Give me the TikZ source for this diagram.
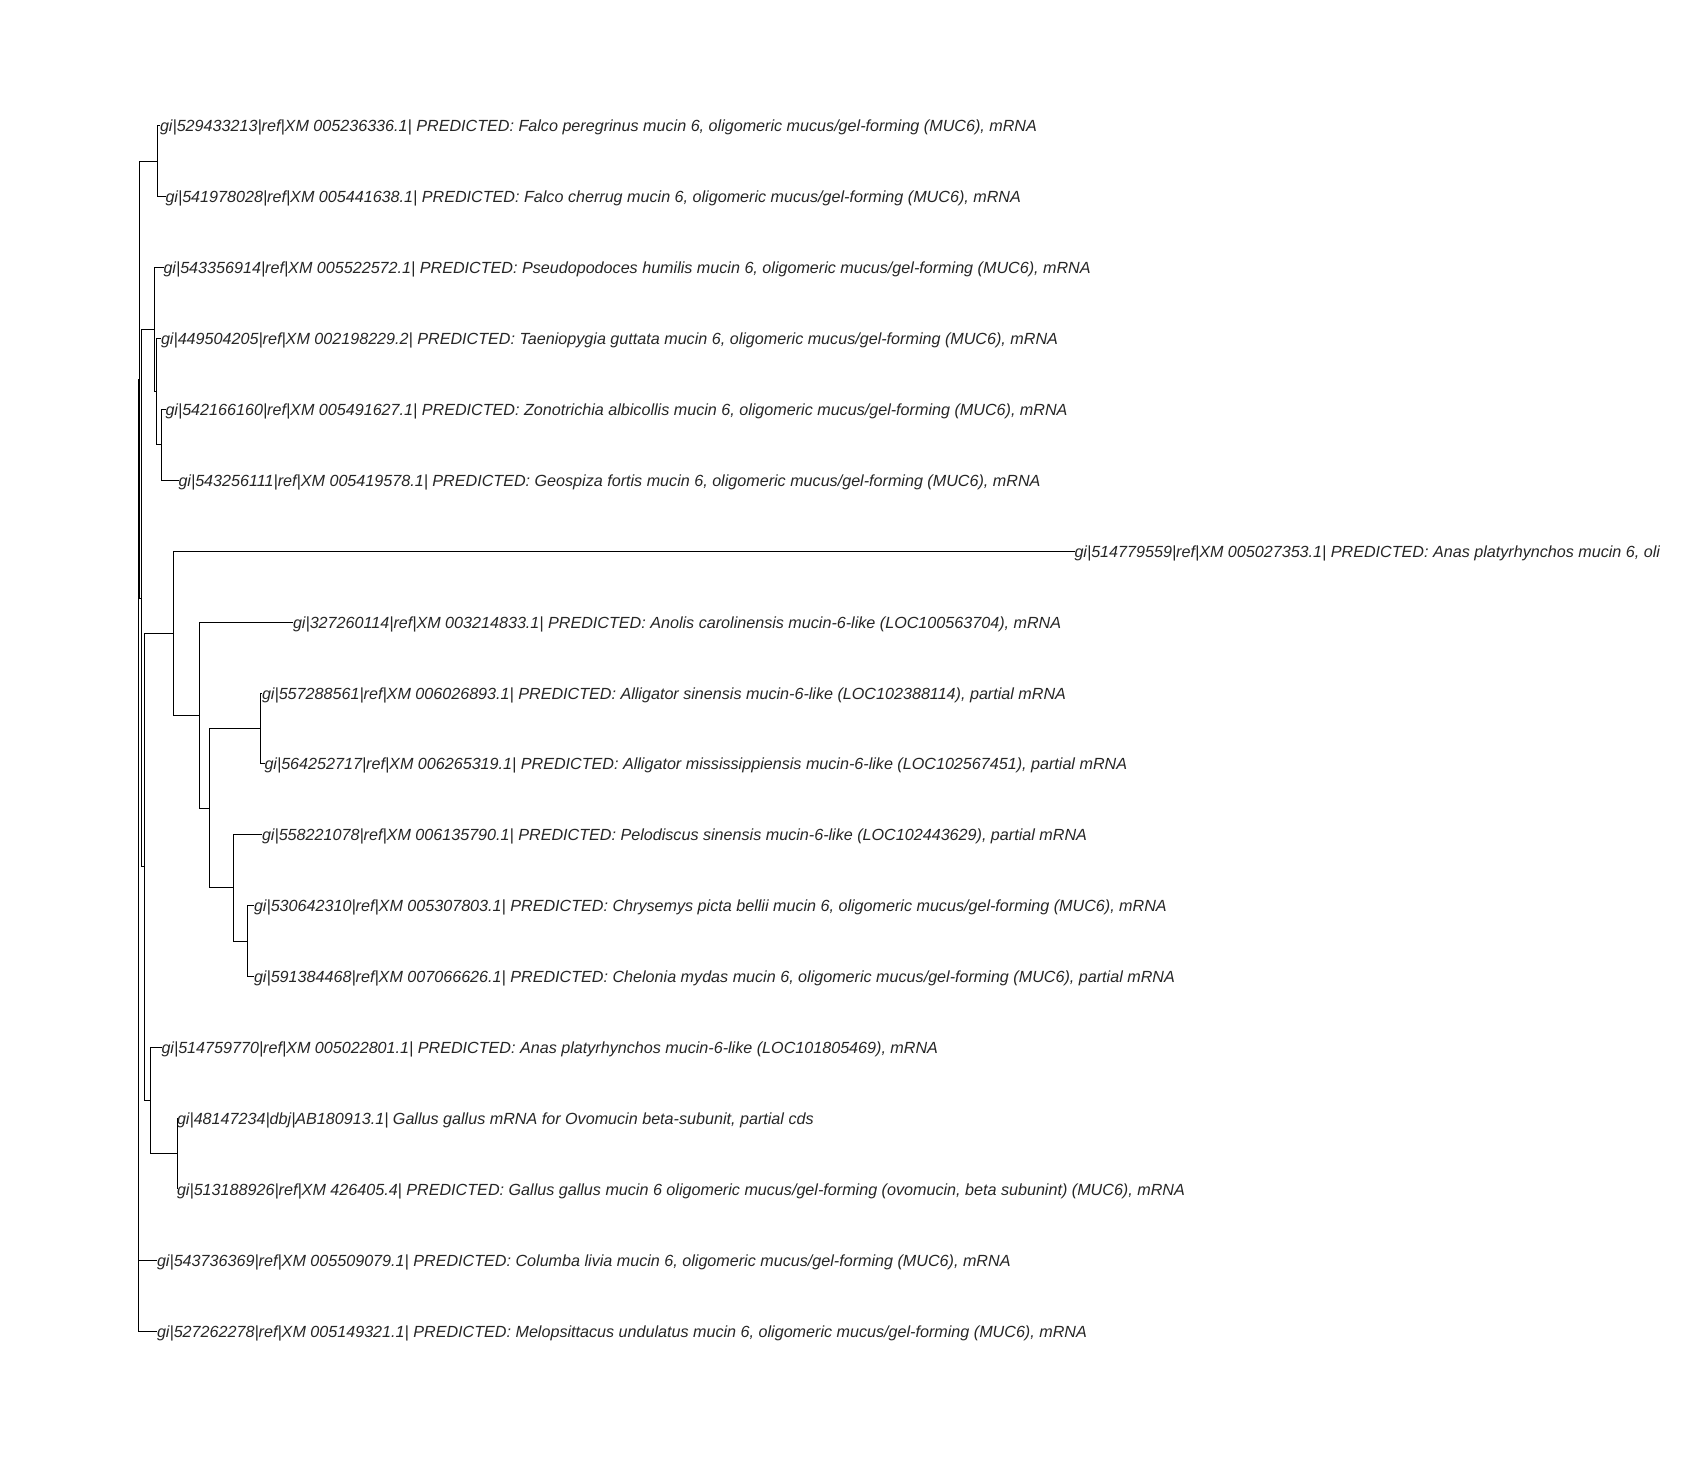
\documentclass[tikz,border=0pt]{standalone}
\usepackage{fontspec}
\setmainfont{Liberation Sans}
\begin{document}
\begin{tikzpicture}[x=1bp,y=-1bp,
  branch/.style={line width=1bp, black},
  lbl/.style={anchor=base west, inner sep=0pt, outer sep=0pt,
    font=\fontsize{16.2}{19}\selectfont\itshape, text=black!85, yshift=-6bp}]
\fill[white] (0,0) rectangle (1700,1479);
\useasboundingbox (0,0) rectangle (1700,1479);

% internal nodes (x = depth, y = midpoint of the children)
\coordinate (root) at (138,855.5);
\coordinate (C)   at (139,379.9);
\coordinate (F0)  at (157,161.45);
\coordinate (D)   at (141,598.35);
\coordinate (P1)  at (154.7,329.8);
\coordinate (P2)  at (156,391.8);
\coordinate (P3)  at (161,444.95);
\coordinate (E)   at (144,866.9);
\coordinate (F)   at (173.3,633.25);
\coordinate (G)   at (199.3,715.2);
\coordinate (H)   at (209,808.2);
\coordinate (A)   at (260,728.45);
\coordinate (T1)  at (233,887.98);
\coordinate (T2)  at (247,941.15);
\coordinate (I)   at (150,1100.6);
\coordinate (Gal) at (177,1153.75);

% leaf tips
\coordinate (l0)  at (160,126);
\coordinate (l1)  at (165.5,196.9);
\coordinate (l2)  at (163.5,267.8);
\coordinate (l3)  at (161,338.6);
\coordinate (l4)  at (165.5,409.5);
\coordinate (l5)  at (178.5,480.4);
\coordinate (l6)  at (1074.5,551.3);
\coordinate (l7)  at (293,622.2);
\coordinate (l8)  at (262,693);
\coordinate (l9)  at (264.5,763.9);
\coordinate (l10) at (262,834.8);
\coordinate (l11) at (254,905.7);
\coordinate (l12) at (254,976.6);
\coordinate (l13) at (161.5,1047.4);
\coordinate (l14) at (177,1118.3);
\coordinate (l15) at (177,1189.2);
\coordinate (l16) at (157,1260.1);
\coordinate (l17) at (157,1331);

% labels
\node[lbl] (t0) at (l0) {gi|529433213|ref|XM 005236336.1| PREDICTED: Falco peregrinus mucin 6, oligomeric mucus/gel-forming (MUC6), mRNA};
\node[lbl] (t1) at (l1) {gi|541978028|ref|XM 005441638.1| PREDICTED: Falco cherrug mucin 6, oligomeric mucus/gel-forming (MUC6), mRNA};
\node[lbl] (t2) at (l2) {gi|543356914|ref|XM 005522572.1| PREDICTED: Pseudopodoces humilis mucin 6, oligomeric mucus/gel-forming (MUC6), mRNA};
\node[lbl] (t3) at (l3) {gi|449504205|ref|XM 002198229.2| PREDICTED: Taeniopygia guttata mucin 6, oligomeric mucus/gel-forming (MUC6), mRNA};
\node[lbl] (t4) at (l4) {gi|542166160|ref|XM 005491627.1| PREDICTED: Zonotrichia albicollis mucin 6, oligomeric mucus/gel-forming (MUC6), mRNA};
\node[lbl] (t5) at (l5) {gi|543256111|ref|XM 005419578.1| PREDICTED: Geospiza fortis mucin 6, oligomeric mucus/gel-forming (MUC6), mRNA};
\begin{scope}
  \clip (0,0) rectangle (1659,1479);
  \node[lbl] (t6) at (l6) {gi|514779559|ref|XM 005027353.1| PREDICTED: Anas platyrhynchos mucin 6, oligomeric mucus/gel-forming (MUC6), mRNA};
\end{scope}
\node[lbl] (t7) at (l7) {gi|327260114|ref|XM 003214833.1| PREDICTED: Anolis carolinensis mucin-6-like (LOC100563704), mRNA};
\node[lbl] (t8) at (l8) {gi|557288561|ref|XM 006026893.1| PREDICTED: Alligator sinensis mucin-6-like (LOC102388114), partial mRNA};
\node[lbl] (t9) at (l9) {gi|564252717|ref|XM 006265319.1| PREDICTED: Alligator mississippiensis mucin-6-like (LOC102567451), partial mRNA};
\node[lbl] (t10) at (l10) {gi|558221078|ref|XM 006135790.1| PREDICTED: Pelodiscus sinensis mucin-6-like (LOC102443629), partial mRNA};
\node[lbl] (t11) at (l11) {gi|530642310|ref|XM 005307803.1| PREDICTED: Chrysemys picta bellii mucin 6, oligomeric mucus/gel-forming (MUC6), mRNA};
\node[lbl] (t12) at (l12) {gi|591384468|ref|XM 007066626.1| PREDICTED: Chelonia mydas mucin 6, oligomeric mucus/gel-forming (MUC6), partial mRNA};
\node[lbl] (t13) at (l13) {gi|514759770|ref|XM 005022801.1| PREDICTED: Anas platyrhynchos mucin-6-like (LOC101805469), mRNA};
\node[lbl] (t14) at (l14) {gi|48147234|dbj|AB180913.1| Gallus gallus mRNA for Ovomucin beta-subunit, partial cds};
\node[lbl] (t15) at (l15) {gi|513188926|ref|XM 426405.4| PREDICTED: Gallus gallus mucin 6 oligomeric mucus/gel-forming (ovomucin, beta subunint) (MUC6), mRNA};
\node[lbl] (t16) at (l16) {gi|543736369|ref|XM 005509079.1| PREDICTED: Columba livia mucin 6, oligomeric mucus/gel-forming (MUC6), mRNA};
\node[lbl] (t17) at (l17) {gi|527262278|ref|XM 005149321.1| PREDICTED: Melopsittacus undulatus mucin 6, oligomeric mucus/gel-forming (MUC6), mRNA};

% branches
\draw[branch] (root) |- (C);
\draw[branch] (root) |- (l16);
\draw[branch] (root) |- (l17);
\draw[branch] (C) |- (F0);
\draw[branch] (C) |- (D);
\draw[branch] (F0) |- (l0);
\draw[branch] (F0) |- (l1);
\draw[branch] (D) |- (P1);
\draw[branch] (D) |- (E);
\draw[branch] (P1) |- (l2);
\draw[branch] (P1) |- (P2);
\draw[branch] (P2) |- (l3);
\draw[branch] (P2) |- (P3);
\draw[branch] (P3) |- (l4);
\draw[branch] (P3) |- (l5);
\draw[branch] (E) |- (F);
\draw[branch] (E) |- (I);
\draw[branch] (F) |- (l6);
\draw[branch] (F) |- (G);
\draw[branch] (G) |- (l7);
\draw[branch] (G) |- (H);
\draw[branch] (H) |- (A);
\draw[branch] (H) |- (T1);
\draw[branch] (A) |- (l8);
\draw[branch] (A) |- (l9);
\draw[branch] (T1) |- (l10);
\draw[branch] (T1) |- (T2);
\draw[branch] (T2) |- (l11);
\draw[branch] (T2) |- (l12);
\draw[branch] (I) |- (l13);
\draw[branch] (I) |- (Gal);
\draw[branch] (Gal) |- (l14);
\draw[branch] (Gal) |- (l15);
\end{tikzpicture}
\end{document}
